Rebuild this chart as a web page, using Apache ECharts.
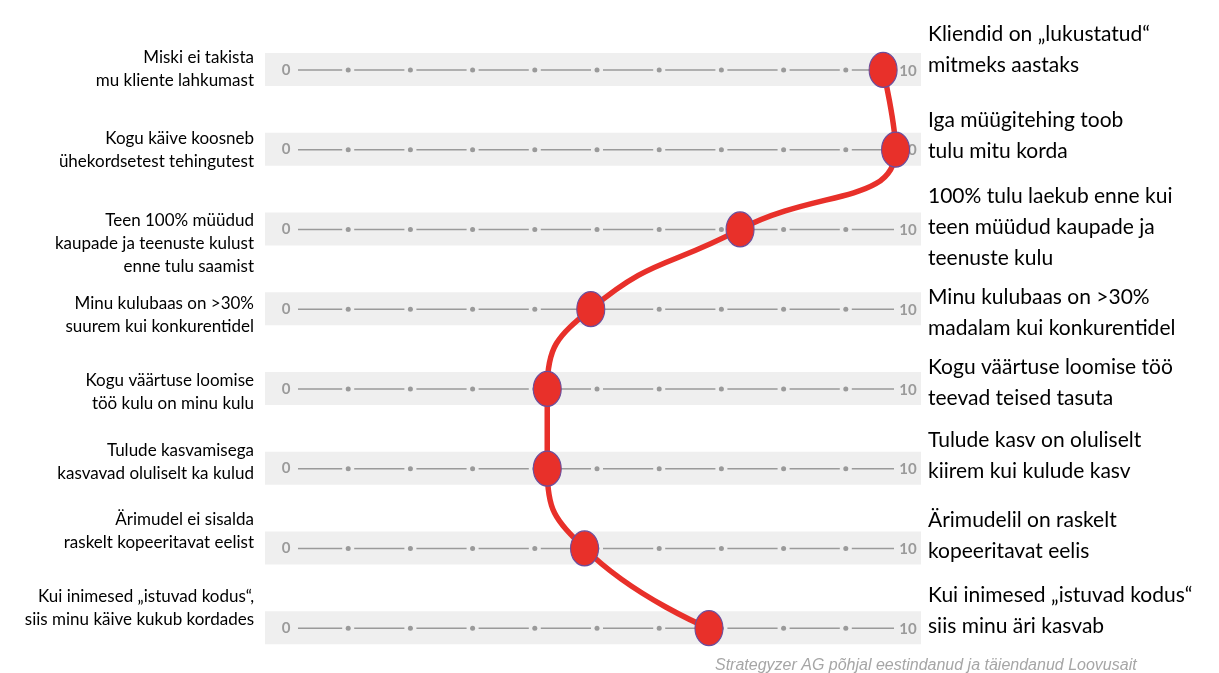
<!DOCTYPE html>
<html>
<head>
<meta charset="utf-8">
<script src="https://cdn.jsdelivr.net/npm/echarts@6/dist/echarts.min.js"></script>
<style>
  html, body { margin: 0; padding: 0; background: #fff; }
  #chart { width: 1219px; height: 673px; }
</style>
</head>
<body>
<div id="chart"></div>
<script>
// vasakpoolsed väited (halb ärimudel)
var leftLabels = [
  "Miski ei takista\nmu kliente lahkumast",
  "Kogu käive koosneb\nühekordsetest tehingutest",
  "Teen 100% müüdud\nkaupade ja teenuste kulust\nenne tulu saamist",
  "Minu kulubaas on >30%\nsuurem kui konkurentidel",
  "Kogu väärtuse loomise\ntöö kulu on minu kulu",
  "Tulude kasvamisega\nkasvavad oluliselt ka kulud",
  "Ärimudel ei sisalda\nraskelt kopeeritavat eelist",
  "Kui inimesed „istuvad kodus“,\nsiis minu käive kukub kordades"
];
// parempoolsed väited (hea ärimudel)
var rightLabels = [
  "Kliendid on „lukustatud“\nmitmeks aastaks",
  "Iga müügitehing toob\ntulu mitu korda",
  "100% tulu laekub enne kui\nteen müüdud kaupade ja\nteenuste kulu",
  "Minu kulubaas on >30%\nmadalam kui konkurentidel",
  "Kogu väärtuse loomise töö\nteevad teised tasuta",
  "Tulude kasv on oluliselt\nkiirem kui kulude kasv",
  "Ärimudelil on raskelt\nkopeeritavat eelis",
  "Kui inimesed „istuvad kodus“\nsiis minu äri kasvab"
];
// hinnang skaalal 0..10
var scores = [9.6, 9.8, 7.3, 4.9, 4.2, 4.2, 4.8, 6.8];
// skaala vahepunktid
var scaleTicks = [1, 2, 3, 4, 5, 6, 7, 8, 9];
var scaleMin = 0;
var scaleMax = 10;

// tekstiplokkide vertikaalne nihe rea joone suhtes (px)
var leftShift = [-1, 0, 14, 6, 3, -7, -17, -20];
var rightShift = [-20, -14, -2, 4, -6, -13, -13, -17];

var chart = echarts.init(document.getElementById("chart"));

var gray = "#9a9a9a";

function renderScale(params, api) {
  var row = api.value(1);
  var p0 = api.coord([scaleMin, row]);
  var p10 = api.coord([scaleMax, row]);
  var y = p0[1];
  var children = [];
  // hall taust
  children.push({
    type: "rect",
    shape: { x: p0[0] - 21, y: y - 17, width: p10[0] - p0[0] + 34, height: 33 },
    style: { fill: "#efefef" }
  });
  children.push({
    type: "text",
    style: { text: String(scaleMin), x: p0[0], y: y, align: "center", verticalAlign: "middle",
      fill: gray, font: "bold 15px Lato" }
  });
  children.push({
    type: "text",
    style: { text: String(scaleMax), x: p10[0], y: y + 1, align: "center", verticalAlign: "middle",
      fill: gray, font: "bold 15px Lato" }
  });
  var tx = scaleTicks.map(function (t) { return api.coord([t, row])[0]; });
  var starts = [p0[0] + 12].concat(tx.map(function (x) { return x + 6; }));
  var ends = tx.map(function (x) { return x - 6; }).concat([p10[0] - 14]);
  for (var k = 0; k < starts.length; k++) {
    children.push({
      type: "line",
      shape: { x1: starts[k], y1: y, x2: ends[k], y2: y },
      style: { stroke: gray, lineWidth: 1.5 }
    });
  }
  tx.forEach(function (x) {
    children.push({
      type: "circle",
      shape: { cx: x, cy: y, r: 2.5 },
      style: { fill: gray }
    });
  });
  // väited
  children.push({
    type: "text",
    style: { text: leftLabels[row], x: 254, y: y + leftShift[row], align: "right",
      verticalAlign: "middle", font: "17px Lato", lineHeight: 23, fill: "#000" }
  });
  children.push({
    type: "text",
    style: { text: rightLabels[row], x: p10[0] + 20, y: y + rightShift[row], align: "left",
      verticalAlign: "middle", font: "21px Lato", lineHeight: 31, fill: "#000" }
  });
  return { type: "group", children: children };
}

var option = {
  backgroundColor: "#fff",
  animation: false,
  title: {
    text: "Strategyzer AG põhjal eestindanud ja täiendanud Loovusait",
    left: 710,
    top: 653,
    textStyle: {
      fontFamily: "Liberation Sans",
      fontStyle: "italic",
      fontWeight: "normal",
      fontSize: 16,
      color: "#a6a6a6"
    }
  },
  grid: { left: 286, right: 311, top: 30, bottom: 5 },
  xAxis: {
    type: "value",
    min: scaleMin,
    max: scaleMax,
    show: false
  },
  yAxis: {
    type: "category",
    inverse: true,
    data: leftLabels,
    show: false
  },
  series: [
    {
      type: "custom",
      renderItem: renderScale,
      encode: { x: 0, y: 1 },
      data: leftLabels.map(function (name, i) { return [scaleMin, i]; }),
      z: 1,
      silent: true
    },
    {
      type: "line",
      data: scores.map(function (v, i) { return [v, i]; }),
      smooth: 0.5,
      symbol: "circle",
      symbolSize: [28, 35],
      lineStyle: { color: "#e8302a", width: 5.5 },
      itemStyle: { color: "#e8302a", borderColor: "#6b4d9c", borderWidth: 1.2 },
      z: 5
    }
  ]
};

chart.setOption(option);
</script>
</body>
</html>
